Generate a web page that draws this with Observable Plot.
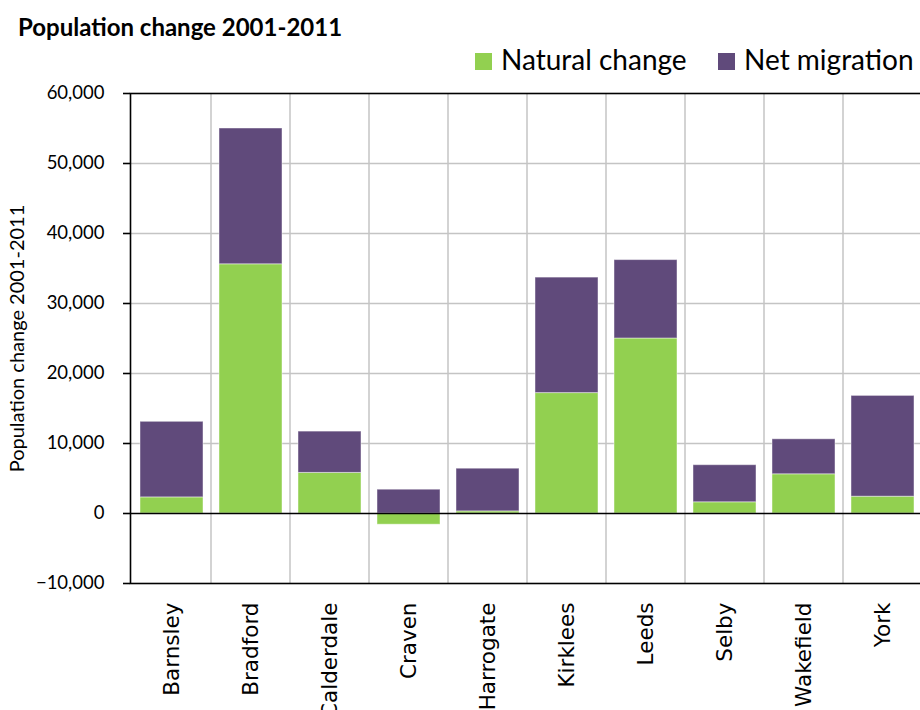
<!DOCTYPE html>
<html>
<head>
<meta charset="utf-8">
<script src="https://cdn.jsdelivr.net/npm/d3@7"></script>
<script src="https://cdn.jsdelivr.net/npm/@observablehq/plot@0.6"></script>
<style>
  html, body { margin: 0; padding: 0; background: #fff; }
  #page { position: relative; width: 920px; height: 710px; overflow: hidden; }
  #header { position: relative; height: 80px; }
  #title { position: absolute; left: 18px; top: 12px; font: bold 24px Lato, sans-serif; color: #000; white-space: nowrap; }
  .key { position: absolute; top: 42px; font: 28px Lato, sans-serif; color: #000; white-space: nowrap; }
  .swatch { position: absolute; top: 11px; width: 17px; height: 17px; }
  .key span.lbl { position: absolute; left: 26px; top: 0; }
  #chart svg { display: block; overflow: visible; max-width: none !important; }
</style>
</head>
<body>
<div id="page">
  <div id="header">
    <div id="title">Population change 2001-2011</div>
    <div class="key" style="left:475px"><div class="swatch" style="background:#92d050"></div><span class="lbl">Natural change</span></div>
    <div class="key" style="left:718px"><div class="swatch" style="background:#604a7b"></div><span class="lbl">Net migration</span></div>
  </div>
  <div id="chart"></div>
</div>
<script>
// Districts and their components of population change, 2001-2011
const regions = ["Barnsley", "Bradford", "Calderdale", "Craven", "Harrogate",
                 "Kirklees", "Leeds", "Selby", "Wakefield", "York"];
const naturalChange = [2300, 35600, 5800, -1600, 300, 17200, 25000, 1600, 5600, 2400];
const netMigration  = [10800, 19400, 5900, 3400, 6100, 16500, 11200, 5300, 5000, 14400];
const seriesNames = ["Natural change", "Net migration"];
const seriesColors = ["#92d050", "#604a7b"];
const yTicks = [-10000, 0, 10000, 20000, 30000, 40000, 50000, 60000];
const yLabel = "Population change 2001-2011";

// Long format for stacking: natural change first so it sits at the base
const rows = [];
regions.forEach((r, i) => {
  rows.push({region: r, series: seriesNames[0], value: naturalChange[i]});
  rows.push({region: r, series: seriesNames[1], value: netMigration[i]});
});

// Vertical separators between district bands
function bandSeparators(index, scales, values, dimensions) {
  const x = scales.x;
  const bw = x.bandwidth();
  const step = x(regions[1]) - x(regions[0]);
  const gap = step - bw;
  const xs = regions.map(r => x(r) - gap / 2);
  const y1 = scales.y(yTicks[yTicks.length - 1]);
  const y2 = scales.y(yTicks[0]);
  const g = d3.create("svg:g");
  g.selectAll("line").data(xs.slice(1)).join("line")
    .attr("x1", d => d).attr("x2", d => d)
    .attr("y1", y1).attr("y2", y2)
    .attr("stroke", "#c4c4c4").attr("stroke-width", 1.5);
  return g.node();
}

const chart = Plot.plot({
  width: 924,
  height: 630,
  marginTop: 13,
  marginBottom: 127,
  marginLeft: 130,
  marginRight: 0,
  style: {fontFamily: "Lato, sans-serif", background: "white", maxWidth: "none"},
  x: {domain: regions, paddingInner: 0.2, paddingOuter: 0.1, label: null},
  y: {domain: [yTicks[0], yTicks[yTicks.length - 1]], label: null},
  color: {domain: seriesNames, range: seriesColors},
  marks: [
    Plot.ruleY(yTicks.filter(t => t !== 0 && t !== yTicks[0] && t !== yTicks[yTicks.length - 1]),
      {stroke: "#c4c4c4", strokeWidth: 1.5}),
    bandSeparators,
    Plot.barY(rows, Plot.stackY({
      x: "region", y: "value", fill: "series",
      stroke: "#ffffff", strokeOpacity: 0.45, strokeWidth: 1
    })),
    Plot.ruleY([0], {stroke: "#000", strokeWidth: 1.6}),
    Plot.frame({stroke: "#000", strokeWidth: 1.6}),
    Plot.axisY(yTicks, {
      tickSize: 7, tickPadding: 19, tickFormat: d3.format(","),
      fontSize: 18.5, stroke: "#000", strokeWidth: 1.6, label: null
    }),
    Plot.axisX({
      tickSize: 0, tickPadding: 19, tickRotate: -90,
      fontSize: 21.5, fontFamily: "DejaVu Sans, sans-serif", label: null
    }),
    Plot.text([yLabel], {
      frameAnchor: "left", textAnchor: "middle", rotate: -90, dx: -113, fontSize: 20,
      fontFamily: "Lato, sans-serif", fill: "#000"
    })
  ]
});
chart.style.maxWidth = "none";
document.getElementById("chart").append(chart);
</script>
</body>
</html>
